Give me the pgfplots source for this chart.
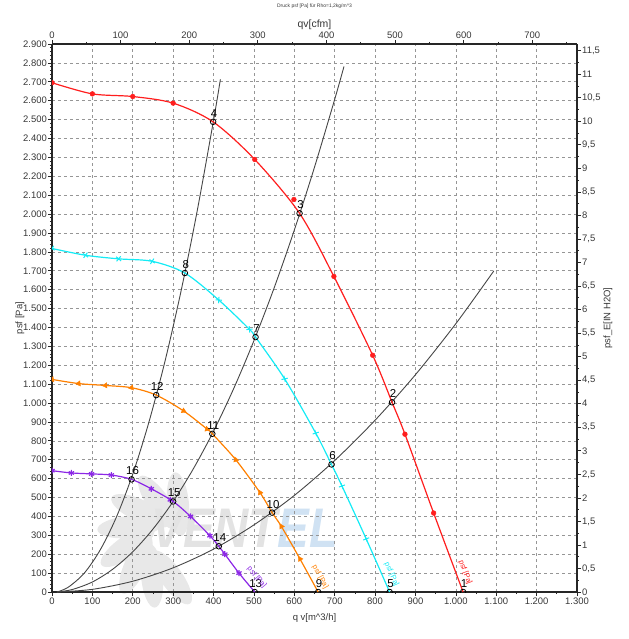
\documentclass[border=0pt]{standalone}
\usepackage{fontspec}
\setmainfont{Liberation Sans}
\usepackage{pgfplots}
\pgfplotsset{compat=1.18}
\usepackage{pgfplotstable}

\definecolor{cRed}{RGB}{255,30,30}
\definecolor{cCyan}{RGB}{20,235,245}
\definecolor{cOrange}{RGB}{255,128,0}
\definecolor{cPurple}{RGB}{140,40,230}
\definecolor{cSys}{RGB}{70,70,70}
\definecolor{cGrid}{RGB}{150,150,150}
\definecolor{cTick}{RGB}{55,55,55}
\definecolor{cWmGray}{RGB}{232,232,232}
\definecolor{cWmBlue}{RGB}{208,226,243}

% fan characteristic curves, psf [Pa] over qv [m^3/h]
\pgfplotstableread{
x y
0 2695
100 2636
200 2622
300 2587
399 2488
502 2289
613 2004
698 1670
794 1253
842 1004
874 835
945 418
1018 0
}\redline
\pgfplotstableread{
x y
0 2695
100 2636
200 2622
300 2587
502 2289
599 2077
698 1670
794 1253
874 835
945 418
}\redmarks
\pgfplotstableread{
x y
0 1818
83 1782
165 1763
248 1750
329 1688
413 1545
489 1390
504 1349
576 1128
653 841
692 675
718 561
778 281
836 0
}\cyanline
\pgfplotstableread{
x y rot
0 1818 11
83 1782 9
165 1763 5
248 1750 12
413 1545 41
489 1390 50
576 1128 57
653 841 62
718 561 64
778 281 66
}\cyanmarks
\pgfplotstableread{
x y
0 1125
66 1103
132 1093
197 1081
258 1042
326 958
384 862
397 837
455 700
515 526
545 420
568 347
614 175
659 0
}\orangeline
\pgfplotstableread{
x y rot
0 1125 99
66 1103 96
132 1093 95
197 1081 101
326 958 124
384 862 133
455 700 140
515 526 146
568 347 149
614 175 151
}\orangemarks
\pgfplotstableread{
x y
0 642
48 630
98 625
147 619
197 596
246 546
300 479
343 400
391 298
413 242
428 200
463 100
502 0
}\purpleline
\pgfplotstableread{
x y
0 642
48 630
98 625
147 619
246 546
293 488
343 400
391 298
428 200
463 100
}\purplemarks
% system curves
\pgfplotstableread{
x y
12 0
40 25
80 100
120 225
160 399
200 624
240 899
280 1223
320 1597
360 2022
400 2496
417 2713
}\sysA
\pgfplotstableread{
x y
12 0
50 13
100 53
150 120
200 213
250 333
300 479
350 652
400 851
450 1077
500 1330
550 1609
600 1915
650 2248
700 2607
723 2781
}\sysB
\pgfplotstableread{
x y
12 0
100 14
200 57
300 128
400 227
500 355
600 511
700 696
800 909
900 1150
1000 1420
1094 1699
}\sysC
% operating points
\pgfplotstableread{
x y lab
1018 0 1
842 1004 2
613 2004 3
399 2488 4
836 0 5
692 675 6
504 1349 7
329 1688 8
659 0 9
545 420 10
397 837 11
258 1042 12
502 0 13
413 242 14
300 479 15
197 596 16
}\oppoints

\newcommand{\tickfont}{\fontsize{9.5}{10}\selectfont}

\begin{document}
\begin{tikzpicture}
\path[use as bounding box] (-52bp,-47bp) rectangle (577bp,592bp);

% logo in the background
\begin{scope}[shift={(113bp,52bp)}]
  \foreach \a in {70,100,130,160,190,220,250,280}{
    \fill[cWmGray, rotate=\a] (38bp,0) ellipse [x radius=32bp, y radius=11bp, rotate=25];
  }
\end{scope}
\node[inner sep=0, xscale=0.85] at (193bp,64bp)
  {\fontsize{56}{56}\selectfont\bfseries\itshape\textcolor{gray!22}{VENT}\textcolor{cWmBlue}{EL}};

\begin{axis}[
  at={(0,0)}, anchor=south west,
  scale only axis, width=525bp, height=548bp,
  xmin=0, xmax=1300, ymin=0, ymax=2900,
  axis x line=bottom, axis y line=left,
  axis line style={-, line width=1.6bp, black!85},
  xtick distance=100, ytick distance=100,
  minor x tick num=1, minor y tick num=4,
  grid=major,
  major grid style={cGrid, dash pattern=on 3bp off 3bp, line width=0.6bp},
  tick align=outside, major tick length=4bp, minor tick length=2bp,
  tick style={black!85, line width=0.7bp},
  scaled ticks=false,
  clip marker paths=true,
  ticklabel style={font=\tickfont, text=cTick},
  yticklabel style={inner sep=1bp},
  xticklabel style={inner sep=1.5bp},
  /pgf/number format/.cd, 1000 sep={.}, assume math mode=true,
  /pgfplots/.cd,
  xlabel={q v[m\textasciicircum 3/h]},
  ylabel={psf [Pa]},
  xlabel style={at={(axis description cs:0.5,-0.0474)}, anchor=center, font=\tickfont, text=cTick},
  ylabel style={at={(axis description cs:-0.061,0.5)}, anchor=center, font=\tickfont, text=cTick},
]
% system curves
\addplot[cSys, line width=0.9bp, smooth] table {\sysA};
\addplot[cSys, line width=0.9bp, smooth] table {\sysB};
\addplot[cSys, line width=0.9bp, smooth] table {\sysC};

% fan curves
\addplot[cRed, line width=1.2bp, smooth] table {\redline};
\addplot[cRed, only marks, mark=*, mark size=2.4bp] table {\redmarks};

\addplot[cCyan, line width=1.2bp, smooth] table {\cyanline};
\addplot[cCyan, only marks, mark=x, mark size=3.2bp, line width=1bp,
  scatter, point meta=x,
  visualization depends on={\thisrow{rot} \as \myrot},
  scatter/use mapped color={draw=cCyan, fill=cCyan},
  scatter/@pre marker code/.append style={/tikz/rotate=\myrot}] table {\cyanmarks};

\addplot[cOrange, line width=1.2bp, smooth] table {\orangeline};
\addplot[cOrange, only marks, mark=triangle*, mark size=3bp,
  scatter, point meta=x,
  visualization depends on={\thisrow{rot} \as \myrot},
  scatter/use mapped color={draw=cOrange, fill=cOrange},
  scatter/@pre marker code/.append style={/tikz/rotate=\myrot}] table {\orangemarks};

\addplot[cPurple, line width=1.2bp, smooth] table {\purpleline};
\addplot[cPurple, only marks, mark=asterisk, mark size=3bp, line width=1.2bp] table {\purplemarks};

% operating points with their numbers
\addplot[only marks, mark=o, mark size=2.8bp,
  mark options={draw=black, fill=white, line width=0.8bp},
  nodes near coords, point meta=explicit symbolic,
  every node near coord/.append style={anchor=center, yshift=8.5bp, xshift=1bp,
    font=\fontsize{11.5}{12}\selectfont, text=black, inner sep=0}]
  table[meta=lab] {\oppoints};

% curve names
\node[rotate=-69.5, text=cRed, font=\fontsize{7.5}{7.5}\selectfont, inner sep=0] at (axis cs:1023,104) {psf [Pa]};
\node[rotate=-66, text=cCyan, font=\fontsize{7.5}{7.5}\selectfont, inner sep=0] at (axis cs:841,93) {psf [Pa]};
\node[rotate=-61, text=cOrange, font=\fontsize{7.5}{7.5}\selectfont, inner sep=0] at (axis cs:664,79) {psf [Pa]};
\node[rotate=-50, text=cPurple, font=\fontsize{7.5}{7.5}\selectfont, inner sep=0] at (axis cs:507,77) {psf [Pa]};
\end{axis}

% secondary scales: cfm on top, inch water column on the right
\begin{axis}[
  at={(0,0)}, anchor=south west,
  scale only axis, width=525bp, height=548bp,
  xmin=0, xmax=765.15, ymin=0, ymax=11.6424,
  axis x line=top, axis y line=right,
  axis line style={-, line width=1.6bp, black!85},
  xtick distance=100, ytick distance=0.5,
  minor x tick num=1, minor y tick num=1,
  tick align=outside, major tick length=4bp, minor tick length=2bp,
  tick style={black!85, line width=0.7bp},
  scaled ticks=false,
  ticklabel style={font=\tickfont, text=cTick},
  yticklabel style={inner sep=1bp, /pgf/number format/.cd, use comma, fixed, precision=1},
  xticklabel style={inner sep=1.5bp},
  /pgf/number format/assume math mode=true,
  xlabel={qv[cfm]},
  ylabel={psf\_E[IN H2O]},
  xlabel style={at={(axis description cs:0.5,1.0347)}, anchor=center, font=\fontsize{10.5}{11}\selectfont, text=cTick},
  ylabel style={at={(axis description cs:1.059,0.5)}, anchor=center, rotate=0, font=\tickfont, text=cTick},
  title={Druck psf [Pa] für Rho=1,2kg/m\textasciicircum 3},
  title style={at={(axis description cs:0.5,1.0584)}, anchor=center, font=\fontsize{5}{5}\selectfont, text=cTick},
]
\end{axis}
\end{tikzpicture}
\end{document}
